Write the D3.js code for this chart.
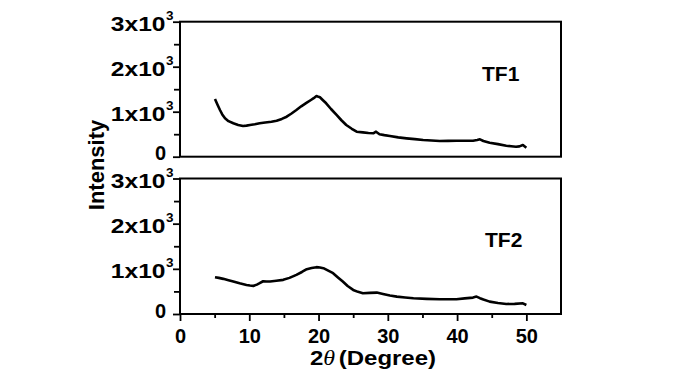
<!DOCTYPE html>
<html><head><meta charset="utf-8">
<script src="https://cdn.jsdelivr.net/npm/d3@7"></script>
<style>
html,body{margin:0;padding:0;background:#fff;}
svg{display:block;}
text{font-family:"Liberation Sans",Arial,sans-serif;font-weight:bold;fill:#000;}
</style></head>
<body>
<svg id="c" width="700" height="384"></svg>
<script>
// ---- data ----
const tf1X = [5.05,5.4,5.77,6.1,6.5,7.0,7.7,8.4,9.1,9.6,10.1,10.8,11.5,12.3,13.2,13.95,14.7,15.4,16.1,16.8,17.5,18.3,18.9,19.3,19.7,20.0,20.2,20.6,21.1,21.8,22.6,23.3,24.0,24.8,25.5,26.4,27.2,27.9,28.3,28.8,29.5,30.3,31.5,32.7,33.9,35.1,36.3,37.5,38.7,39.9,41.1,42.3,42.9,43.3,43.8,44.7,45.9,47.1,47.8,48.5,49.0,49.5,50.0];
const tf1Y = [1282,1160,1038,940,853,790,742,705,682,690,704,720,742,760,778,800,840,889,960,1038,1120,1200,1260,1300,1349,1330,1320,1260,1187,1060,927,810,704,620,556,540,525,520,556,500,480,460,430,408,390,371,360,349,352,356,355,356,370,386,350,311,280,244,232,222,230,260,200];
const tf2X = [5.05,5.6,6.25,7.0,7.7,8.6,9.6,10.1,10.6,11.1,11.5,12.0,12.5,13.0,13.9,14.9,15.8,16.8,17.6,18.3,19.0,19.7,20.2,20.7,21.4,22.1,22.8,23.5,24.2,25.0,25.7,26.4,27.4,28.4,29.3,30.3,31.3,32.5,33.7,35.6,37.5,38.7,39.9,41.1,42.3,42.8,43.3,43.8,44.7,45.9,47.1,48.3,49.5,50.0];
const tf2Y = [815,800,778,748,718,680,644,630,622,650,682,725,720,718,735,756,800,867,930,993,1020,1037,1030,1015,960,904,810,718,620,533,490,460,468,474,444,410,385,365,348,335,326,326,326,345,363,385,350,320,274,245,222,225,237,200];
const xTicksMajor = [0,10,20,30,40,50];
const xTicksMinor = [5,15,25,35,45];
const yTicksMajor = [0,1000,2000,3000];
const yTicksMinor = [500,1500,2500];
const yTickLabels = ["0","1x10","2x10","3x10"];
const panelLabels = ["TF1","TF2"];
const xTitle = "(Degree)";
const yTitle = "Intensity";

// ---- layout ----
const svg = d3.select("#c");
const L = 180, R = 561;
const panels = [{top:21.7,bottom:156.7},{top:178.5,bottom:314}];
const x = d3.scaleLinear().domain([0,55]).range([L,R]);
const series = [tf1X.map((v,i)=>[v,tf1Y[i]]), tf2X.map((v,i)=>[v,tf2Y[i]])];
const labelPos = [{x:482,y:80.7},{x:485,y:247.3}];

panels.forEach((p,pi)=>{
  const y = d3.scaleLinear().domain([0,3000]).range([p.bottom,p.top]);
  const g = svg.append("g");
  // data line
  g.append("path").datum(series[pi])
    .attr("fill","none").attr("stroke","#000").attr("stroke-width",2.6)
    .attr("stroke-linejoin","round")
    .attr("d", d3.line().x(d=>x(d[0])).y(d=>y(d[1])));
  // frame
  g.append("rect").attr("x",L).attr("y",p.top).attr("width",R-L).attr("height",p.bottom-p.top)
    .attr("fill","none").attr("stroke","#000").attr("stroke-width",2);
  // y axes
  const ya = g.append("g").attr("transform",`translate(${L},0)`)
    .call(d3.axisLeft(y).tickValues(yTicksMajor).tickSize(7).tickFormat(""));
  const yb = g.append("g").attr("transform",`translate(${L},0)`)
    .call(d3.axisLeft(y).tickValues(yTicksMinor).tickSize(6).tickFormat(""));
  [ya,yb].forEach(a=>{a.select(".domain").remove();a.selectAll("line").attr("stroke","#000").attr("stroke-width",1.8);});
  // y tick labels
  yTicksMajor.forEach((t,i)=>{
    const ty = y(t);
    if(i===0){
      g.append("text").attr("x",166).attr("y",ty+3.5).attr("text-anchor","end")
        .attr("font-size",20).text(yTickLabels[i]);
    } else {
      g.append("text").attr("transform",`translate(165.5,${ty+9.3}) scale(1.17,1)`)
        .attr("text-anchor","end").attr("font-size",21).text(yTickLabels[i]);
      g.append("text").attr("x",166).attr("y",ty-1.5).attr("font-size",13.5).text("3");
    }
  });
  // panel label
  g.append("text").attr("x",labelPos[pi].x).attr("y",labelPos[pi].y)
    .attr("font-size",21).text(panelLabels[pi]);
  // x axis on bottom panel
  if(pi===1){
    const xa = g.append("g").attr("transform",`translate(0,${p.bottom})`)
      .call(d3.axisBottom(x).tickValues(xTicksMajor).tickSize(7).tickPadding(6).tickFormat(d3.format("d")));
    const xb = g.append("g").attr("transform",`translate(0,${p.bottom})`)
      .call(d3.axisBottom(x).tickValues(xTicksMinor).tickSize(4).tickFormat(""));
    [xa,xb].forEach(a=>{a.select(".domain").remove();a.selectAll("line").attr("stroke","#000").attr("stroke-width",1.8);});
    xa.selectAll("text").attr("font-size",20).attr("font-family","Liberation Sans, Arial, sans-serif")
      .attr("font-weight","bold").attr("fill","#000").attr("dy",null).attr("y",0)
      .attr("transform","translate(0,28.5)");
  }
});

// axis titles
const xt = svg.append("text").attr("transform","translate(373,365) scale(1.2,1)")
  .attr("text-anchor","middle").attr("font-size",20);
xt.append("tspan").text("2");
xt.append("tspan").attr("font-family","Liberation Serif, serif").attr("font-style","italic").attr("font-weight","normal").text("\u03B8");
xt.append("tspan").attr("dx",3).text(xTitle);
svg.append("text").attr("transform","translate(104,165) rotate(-90)").attr("text-anchor","middle")
  .attr("font-size",22).text(yTitle);
</script>
</body></html>
